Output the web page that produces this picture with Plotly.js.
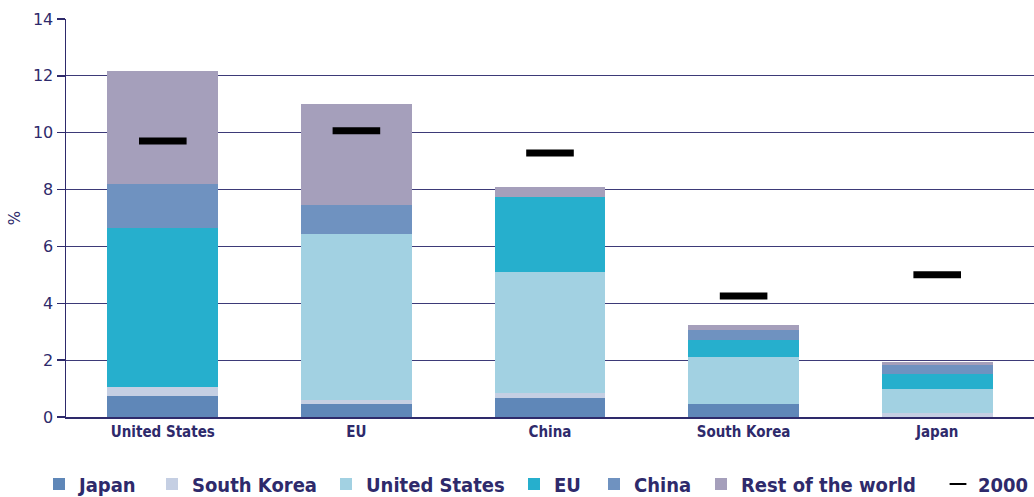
<!DOCTYPE html>
<html><head><meta charset="utf-8">
<script src="https://cdn.plot.ly/plotly-3.0.1.min.js"></script>
<style>body{margin:0;background:#fff}#chart{width:1034px;height:497px}</style>
</head><body><div id="chart"></div>
<script>
const categories = ["United States", "EU", "China", "South Korea", "Japan"];
const japan = [0.73, 0.45, 0.66, 0.45, 0];
const southKorea = [0.31, 0.14, 0.17, 0, 0.13];
const unitedStates = [0, 5.83, 4.26, 1.65, 0.84];
const eu = [5.60, 0, 2.64, 0.62, 0.56];
const china = [1.57, 1.02, 0, 0.33, 0.29];
const restOfWorld = [3.95, 3.56, 0.35, 0.17, 0.10];
const y2000 = [9.71, 10.07, 9.29, 4.26, 5.0];

const navy = "#2e2a6b";
const W = 1034, H = 497;
const series = [
  ["Japan", japan, "#5f87b8"],
  ["South Korea", southKorea, "#c5cfe3"],
  ["United States", unitedStates, "#a2d1e2"],
  ["EU", eu, "#26afcd"],
  ["China", china, "#6f92c0"],
  ["Rest of the world", restOfWorld, "#a59fbb"]
];
const legendIds = ["legend", "legend2", "legend3", "legend4", "legend5", "legend6", "legend7"];
const legendX = [39, 152, 326, 514, 594, 701, 938];
const traces = series.map(([name, vals, col], i) => ({
  type: "bar", name: name, x: categories, y: vals, legend: legendIds[i],
  marker: {color: col, line: {width: 0}},
  hoverinfo: "y+name"
}));
traces.push({
  type: "scatter", mode: "markers", name: "2000", x: categories, y: y2000, legend: legendIds[6],
  marker: {symbol: "line-ew", size: 34, color: "#000", line: {width: 7, color: "#000"}}
});
const layout = {
  width: W, height: H,
  margin: {l: 66, r: 0, t: 18.5, b: 80.3},
  barmode: "stack", bargap: 0.427,
  paper_bgcolor: "#fff", plot_bgcolor: "#fff",
  font: {family: "DejaVu Sans", color: navy, size: 15},
  xaxis: {
    tickfont: {family: "DejaVu Sans Condensed", size: 15, color: navy, weight: "bold"},
    showline: true, linecolor: navy, linewidth: 2, ticks: "", showgrid: false
  },
  yaxis: {
    range: [0, 14], dtick: 2, showline: true, linecolor: navy, linewidth: 1.5,
    ticks: "outside", ticklen: 8, tickcolor: navy, tickwidth: 1.5,
    gridcolor: "#3d3a78", gridwidth: 1.2, zeroline: false,
    tickfont: {family: "DejaVu Sans", size: 16, color: navy},
    title: {text: "%", font: {family: "DejaVu Sans", size: 15, color: navy}, standoff: 8}
  },
  showlegend: true
};
legendIds.forEach((id, i) => {
  layout[id] = {
    orientation: "h", xref: "container", yref: "container",
    x: legendX[i] / W, xanchor: "left", y: (H - 484) / H, yanchor: "middle",
    font: {family: "DejaVu Sans Condensed", size: 20, color: navy, weight: "bold"},
    itemwidth: 30, bgcolor: "rgba(0,0,0,0)",
    itemsizing: id === "legend7" ? "constant" : "trace"
  };
});
Plotly.newPlot("chart", traces, layout, {displayModeBar: false, staticPlot: true});
</script>
</body></html>
